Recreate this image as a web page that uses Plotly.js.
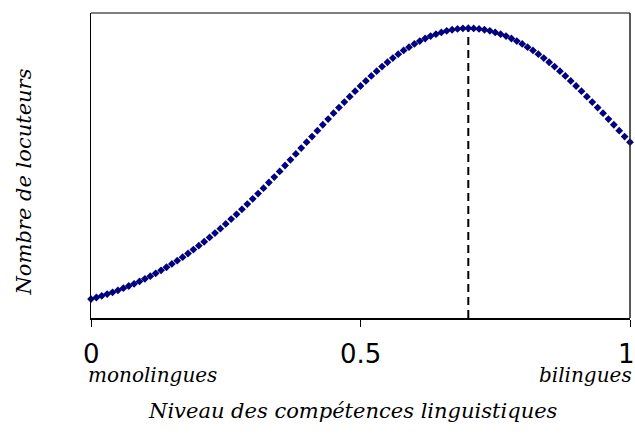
<!DOCTYPE html>
<html>
<head>
<meta charset="utf-8">
<script src="https://cdn.plot.ly/plotly-3.0.1.min.js"></script>
<style>html,body{margin:0;padding:0;background:#fff;}#chart{width:635px;height:434px;}</style>
</head>
<body>
<div id="chart"></div>
<script>
// Competence level (x) and number of speakers (y)
const level = [
  0.00,0.01,0.02,0.03,0.04,0.05,0.06,0.07,0.08,0.09,0.10,
  0.11,0.12,0.13,0.14,0.15,0.16,0.17,0.18,0.19,0.20,
  0.21,0.22,0.23,0.24,0.25,0.26,0.27,0.28,0.29,0.30,
  0.31,0.32,0.33,0.34,0.35,0.36,0.37,0.38,0.39,0.40,
  0.41,0.42,0.43,0.44,0.45,0.46,0.47,0.48,0.49,0.50,
  0.51,0.52,0.53,0.54,0.55,0.56,0.57,0.58,0.59,0.60,
  0.61,0.62,0.63,0.64,0.65,0.66,0.67,0.68,0.69,0.70,
  0.71,0.72,0.73,0.74,0.75,0.76,0.77,0.78,0.79,0.80,
  0.81,0.82,0.83,0.84,0.85,0.86,0.87,0.88,0.89,0.90,
  0.91,0.92,0.93,0.94,0.95,0.96,0.97,0.98,0.99,1.00
];
const speakers = [
  0.087,0.094,0.102,0.110,0.118,0.127,0.137,0.147,0.157,0.168,0.180,
  0.192,0.205,0.219,0.233,0.248,0.263,0.279,0.296,0.314,0.332,
  0.350,0.370,0.390,0.410,0.432,0.454,0.476,0.499,0.523,0.547,
  0.571,0.596,0.622,0.647,0.673,0.700,0.726,0.753,0.780,0.807,
  0.833,0.860,0.887,0.913,0.940,0.966,0.991,1.016,1.041,1.065,
  1.088,1.111,1.133,1.154,1.174,1.193,1.211,1.228,1.243,1.258,
  1.271,1.283,1.294,1.303,1.311,1.318,1.323,1.327,1.329,1.330,
  1.329,1.327,1.323,1.318,1.311,1.303,1.294,1.283,1.271,1.258,
  1.243,1.228,1.211,1.193,1.174,1.154,1.133,1.111,1.088,1.065,
  1.041,1.016,0.991,0.966,0.940,0.913,0.887,0.860,0.833,0.807
];
// Dashed marker of the peak
const peakX = [0.7, 0.7];
const peakY = [0, 1.330];
// Axis ticks and labels
const tickVals = [0, 0.5, 1];
const tickText = ["0", "0.5", "1"];
const endLabels = ["monolingues", "bilingues"];
const xTitle = "Niveau des compétences linguistiques";
const yTitle = "Nombre de locuteurs";

const serifSmall = {family: "DejaVu Serif", size: 20, color: "#000", style: "italic"};
const serifTitle = {family: "DejaVu Serif", size: 21, color: "#000", style: "italic"};
const tickFont = {family: "DejaVu Sans", size: 26, color: "#000"};

const traces = [
  {
    x: peakX, y: peakY, type: "scatter", mode: "lines",
    line: {color: "#000", width: 2, dash: "8px,5px"},
    hoverinfo: "skip", showlegend: false
  },
  {
    x: level, y: speakers, type: "scatter", mode: "markers",
    marker: {symbol: "diamond", size: 6, color: "#000080"},
    cliponaxis: false, showlegend: false
  }
];

const tickAnnotations = tickVals.map((v, i) => ({
  xref: "x", yref: "paper", x: v, y: 0, xanchor: "center", yanchor: "middle",
  yshift: -36, xshift: i === tickVals.length - 1 ? -4 : 0,
  text: tickText[i], showarrow: false, font: tickFont, borderpad: 0
}));

const layout = {
  width: 635, height: 434,
  margin: {l: 91, r: 5, t: 13, b: 116},
  paper_bgcolor: "#fff", plot_bgcolor: "#fff",
  showlegend: false,
  xaxis: {
    range: [0, 1], tickvals: tickVals, ticktext: tickText, showticklabels: false,
    ticks: "outside", ticklen: 7, tickwidth: 1, tickcolor: "#000",
    showgrid: false, zeroline: false,
    showline: true, linecolor: "#000", linewidth: 1.5
  },
  yaxis: {
    range: [0, 1.4], showticklabels: false, ticks: "",
    showgrid: false, zeroline: false,
    showline: true, linecolor: "#000", linewidth: 1.5
  },
  shapes: [
    {type: "line", xref: "paper", yref: "paper", x0: 0, x1: 1, y0: 1, y1: 1,
     line: {color: "#555", width: 1.5}},
    {type: "line", xref: "paper", yref: "paper", x0: 1, x1: 1, y0: 0, y1: 1,
     line: {color: "#222", width: 1.5}}
  ],
  annotations: tickAnnotations.concat([
    {xref: "paper", yref: "paper", x: 0, y: 0, xanchor: "left", yanchor: "middle",
     yshift: -57, xshift: -4, text: endLabels[0], showarrow: false, font: serifSmall, borderpad: 0},
    {xref: "paper", yref: "paper", x: 1, y: 0, xanchor: "right", yanchor: "middle",
     yshift: -57, xshift: 3, text: endLabels[1], showarrow: false, font: serifSmall, borderpad: 0},
    {xref: "paper", yref: "paper", x: 0.5, y: 0, xanchor: "center", yanchor: "middle",
     yshift: -93, xshift: -8, text: xTitle, showarrow: false, font: serifTitle},
    {xref: "paper", yref: "paper", x: 0, y: 0.5, xanchor: "center", yanchor: "middle",
     xshift: -68, yshift: -17, textangle: -90, text: yTitle, showarrow: false, font: serifTitle}
  ])
};

Plotly.newPlot("chart", traces, layout, {displayModeBar: false, staticPlot: true});
</script>
</body>
</html>
